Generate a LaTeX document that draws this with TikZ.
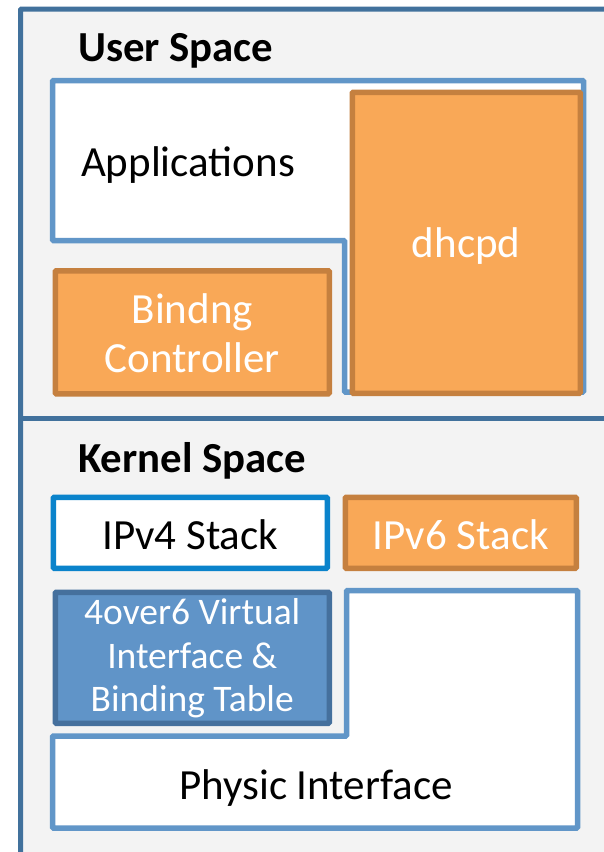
\documentclass[tikz,border=0pt]{standalone}
\usepackage{fontspec}
\setmainfont{Carlito}
\definecolor{framecol}{HTML}{41719C}
\definecolor{bgcol}{HTML}{F3F3F3}
\definecolor{outlinecol}{HTML}{6196C8}
\definecolor{ipvfourcol}{HTML}{0A83CB}
\definecolor{orfill}{HTML}{F9A857}
\definecolor{ordraw}{HTML}{C5803F}
\definecolor{bluefill}{HTML}{6094C8}
\definecolor{bluedraw}{HTML}{45709D}
\newcommand\lowr[2]{\raisebox{-#1}[\height][\depth]{#2}}
\begin{document}
\begin{tikzpicture}[x=1pt,y=-1pt,
  lbl/.style={font=\fontsize{42.8pt}{50pt}\selectfont\bfseries, inner sep=0pt, text=black},
  txt/.style={font=\fontsize{43pt}{50pt}\selectfont, inner sep=0pt, align=center},
  lshape/.style={draw=outlinecol, line width=5.5pt, fill=white, rounded corners=1pt},
  orbox/.style={draw=ordraw, fill=orfill, line width=5.5pt, rounded corners=1pt, text=white,
    font=\fontsize{43pt}{49pt}\selectfont, align=center, inner sep=0pt, anchor=north west},
  whitebox/.style={draw=ipvfourcol, fill=white, line width=5.5pt, rounded corners=1pt, text=black,
    font=\fontsize{43pt}{50pt}\selectfont, align=center, inner sep=0pt, anchor=north west},
  bluebox/.style={draw=bluedraw, fill=bluefill, line width=5.5pt, rounded corners=1pt, text=white,
    font=\fontsize{37.5pt}{43.5pt}\selectfont, align=center, inner sep=0pt, anchor=north west}]
\useasboundingbox (0,0) rectangle (604,852);
\fill[white] (0,0) rectangle (604,852);
\clip (0,0) rectangle (604,852);
% outer frame and divider
\draw[draw=framecol, fill=bgcol, line width=5pt, rounded corners=1pt] (20.5,9) rectangle (640,900);
\coordinate (divl) at (20.5,418.5);
\coordinate (divr) at (640,418.5);
\draw[framecol, line width=5pt] (divl) -- (divr);
% user space
\node[lbl, anchor=base west] (user) at (78,61) {User Space};
\draw[lshape] (52.5,80.5) -- (583.5,80.5) -- (583.5,392) -- (344.5,392) -- (344.5,240.5) -- (52.5,240.5) -- cycle;
\node[txt] (apps) at (188,165) {Applications};
\node[orbox, minimum width=228pt, minimum height=301pt] (dhcpd) at (349.5,89.5) {\lowr{3.5pt}{dhcpd}};
\node[orbox, minimum width=274pt, minimum height=123pt] (bind) at (52.5,268)
  {\lowr{6pt}{\begin{tabular}{@{}c@{}}Bindng\\Controller\end{tabular}}};
% kernel space
\node[lbl, anchor=base west] (kernel) at (78,472) {Kernel Space};
\node[whitebox, minimum width=274pt, minimum height=71pt] (ipv4) at (50.5,494.5) {\lowr{1.5pt}{IPv4 Stack}};
\node[orbox, minimum width=231pt, minimum height=71pt] (ipv6) at (342.5,494.5) {\lowr{1.5pt}{IPv6 Stack}};
\node[bluebox, minimum width=274pt, minimum height=131pt] (vif) at (52.5,589.5)
  {\lowr{2pt}{\begin{tabular}{@{}c@{}}4over6 Virtual\\Interface \&\\Binding Table\end{tabular}}};
\draw[lshape] (346.5,590.5) -- (577.5,590.5) -- (577.5,828) -- (52.5,828) -- (52.5,736) -- (346.5,736) -- cycle;
\node[txt] (phys) at (316,788) {Physic Interface};
\end{tikzpicture}
\end{document}
